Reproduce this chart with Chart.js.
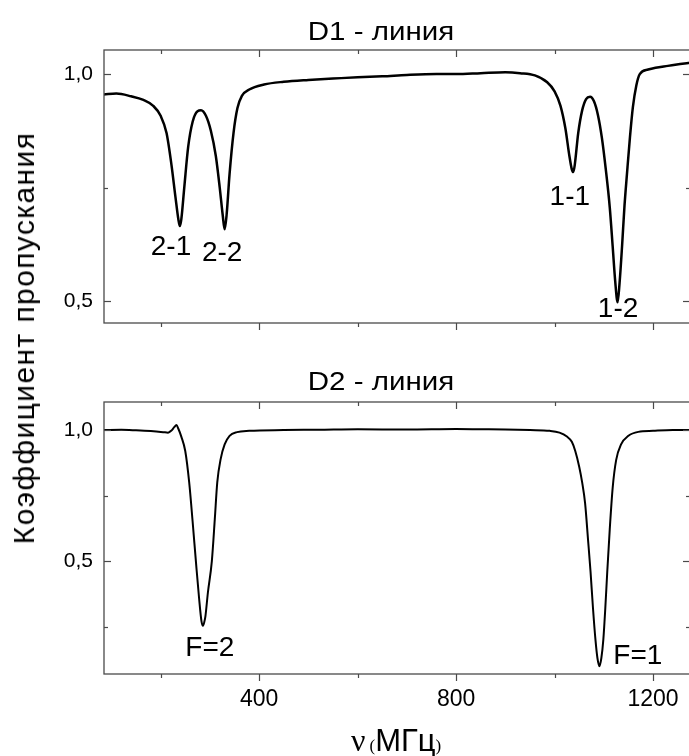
<!DOCTYPE html>
<html>
<head>
<meta charset="utf-8">
<script src="https://cdn.jsdelivr.net/npm/chart.js@4.4.1/dist/chart.umd.min.js"></script>
<style>
html, body { margin: 0; padding: 0; background: #fff; overflow: hidden; }
#wrap { position: relative; width: 689px; height: 756px; overflow: hidden; }
canvas { position: absolute; left: 0; }
#c1 { top: 0; }
#c2 { top: 340px; }
#ytitle {
    position: absolute; left: 24px; top: 338px;
    transform: translate(-50%, -50%) rotate(-90deg);
    font: 30px "Liberation Sans", Arial, sans-serif;
    letter-spacing: 1.4px;
    white-space: nowrap; color: #000;
}
</style>
</head>
<body>
<div id="wrap">
    <canvas id="c1" width="692" height="340"></canvas>
    <canvas id="c2" width="692" height="416"></canvas>
    <div id="ytitle">Коэффициент пропускания</div>
</div>
<script>
// D1 - линия
var freqD1 = [85, 110, 140, 165, 185, 200, 212, 222, 230, 236, 239, 242, 248, 256, 265, 275, 282, 292, 302, 312,
    320, 326, 330, 334, 340, 348, 356, 365, 380, 410, 450, 500, 550, 600, 650, 700, 760, 800, 850, 900,
    930, 960, 985, 1000, 1012, 1022, 1030, 1035, 1038, 1041, 1048, 1056, 1064, 1072, 1080, 1088, 1096, 1104, 1112, 1118,
    1123, 1128, 1132, 1137, 1142, 1147, 1153, 1159, 1166, 1173, 1190, 1205, 1230, 1255, 1275];
var transD1 = [0.955, 0.957, 0.951, 0.943, 0.93, 0.908, 0.87, 0.80, 0.73, 0.68, 0.665, 0.68, 0.75, 0.84, 0.895, 0.918, 0.92, 0.908, 0.875, 0.82,
    0.75, 0.69, 0.658, 0.69, 0.78, 0.87, 0.925, 0.952, 0.966, 0.977, 0.983, 0.987, 0.99, 0.993, 0.995, 0.998, 1.0, 1.0, 1.002, 1.004,
    1.002, 0.997, 0.982, 0.962, 0.93, 0.88, 0.82, 0.79, 0.784, 0.80, 0.87, 0.92, 0.945, 0.95, 0.94, 0.91, 0.86, 0.79, 0.707, 0.62,
    0.545, 0.497, 0.54, 0.62, 0.71, 0.78, 0.86, 0.927, 0.975, 1.0, 1.01, 1.014, 1.018, 1.022, 1.025];

// D2 - линия
var freqD2 = [85, 120, 150, 180, 205, 215, 222, 228, 232, 236, 242, 250, 258, 265, 272, 278, 283, 286, 289, 291,
    296, 304, 310, 315, 322, 330, 340, 355, 380, 450, 520, 600, 700, 800, 850, 900, 950, 990, 1010, 1025,
    1035, 1042, 1050, 1056, 1062, 1068, 1073, 1078, 1083, 1087, 1091, 1095, 1099, 1103, 1107, 1112, 1118, 1125, 1135, 1150,
    1170, 1200, 1240, 1275];
var transD2 = [1.0, 1.001, 0.999, 0.996, 0.992, 0.99, 0.998, 1.012, 1.019, 1.005, 0.975, 0.92, 0.80, 0.65, 0.49, 0.36, 0.27, 0.253, 0.27, 0.29,
    0.38, 0.50, 0.66, 0.80, 0.89, 0.945, 0.978, 0.992, 0.997, 1.0, 1.001, 1.003, 1.002, 1.004, 1.003, 1.002, 1.0, 0.997, 0.99, 0.975,
    0.955, 0.92, 0.86, 0.80, 0.72, 0.58, 0.46, 0.32, 0.20, 0.13, 0.099, 0.13, 0.20, 0.32, 0.46, 0.62, 0.78, 0.885, 0.945, 0.978,
    0.993, 0.997, 1.0, 1.0];

var xMajor = [400, 800, 1200];
var xMinor = [200, 600, 1000];
var yMajorD1 = [0.5, 1.0];
var yMinorD1 = [0.75];
var yMajorD2 = [0.5, 1.0];
var yMinorD2 = [0.25, 0.75];

var peakNamesD1 = ['2-1', '2-2', '1-1', '1-2'];
var peakXD1 = [221, 325, 1031, 1129];
var peakYD1 = [0.601, 0.588, 0.711, 0.465];
var peakNamesD2 = ['F=2', 'F=1'];
var peakXD2 = [300, 1169];
var peakYD2 = [0.137, 0.107];

var sans = '"Liberation Sans", Arial, sans-serif';
var serif = '"Liberation Serif", "Times New Roman", serif';

function fmt(v) {
    return v.toFixed(1).replace('.', ',');
}

function toPoints(xs, ys) {
    var pts = [];
    for (var i = 0; i < xs.length; i++) {
        pts.push({ x: xs[i], y: ys[i] });
    }
    return pts;
}

// рамка, засечки внутрь/наружу, подписи пиков и заголовок
function framePlugin(cfg) {
    return {
        id: 'frame',
        afterDraw: function (chart) {
            var ctx = chart.ctx, a = chart.chartArea;
            var xs = chart.scales.x, ys = chart.scales.y;
            ctx.save();
            ctx.strokeStyle = '#4a4a4a';
            ctx.lineWidth = 1.3;
            ctx.strokeRect(a.left, a.top, a.right - a.left, a.bottom - a.top);

            function seg(x1, y1, x2, y2) {
                ctx.beginPath();
                ctx.moveTo(x1, y1);
                ctx.lineTo(x2, y2);
                ctx.stroke();
            }
            function xTick(v, len) {
                var p = Math.round(xs.getPixelForValue(v)) + 0.5;
                seg(p, a.top, p, a.top + len);
                seg(p, a.bottom, p, a.bottom + len);
            }
            function yTick(v, len) {
                var p = Math.round(ys.getPixelForValue(v)) + 0.5;
                seg(a.left, p, a.left + len, p);
                seg(a.right, p, a.right - len, p);
            }
            ctx.lineWidth = 1.2;
            xMajor.forEach(function (v) { xTick(v, 7); });
            xMinor.forEach(function (v) { xTick(v, 4); });
            cfg.yMajor.forEach(function (v) { yTick(v, 7); });
            cfg.yMinor.forEach(function (v) { yTick(v, 4); });

            ctx.fillStyle = '#000';
            ctx.font = '28px ' + sans;
            ctx.textAlign = 'center';
            ctx.textBaseline = 'alphabetic';
            for (var i = 0; i < cfg.names.length; i++) {
                ctx.fillText(cfg.names[i], xs.getPixelForValue(cfg.px[i]), ys.getPixelForValue(cfg.py[i]));
            }

            // заголовок панели, немного растянут по ширине
            ctx.save();
            ctx.translate(381, cfg.titleY);
            ctx.scale(1.18, 1);
            ctx.font = '25px ' + sans;
            ctx.fillText(cfg.title, 0, 0);
            ctx.restore();

            if (cfg.xTitle) {
                var x = 351, y = chart.height - 5;
                ctx.textAlign = 'left';
                ctx.font = '32px ' + serif;
                ctx.fillText('ν', x, y);
                x += ctx.measureText('ν').width + 4;
                ctx.font = '17px ' + serif;
                ctx.fillText('(', x, y);
                x += ctx.measureText('(').width;
                ctx.font = '31px ' + sans;
                ctx.fillText('МГц', x, y);
                x += ctx.measureText('МГц').width;
                ctx.font = '17px ' + serif;
                ctx.fillText(')', x, y);
            }
            ctx.restore();
        }
    };
}

function creaGrafico(id, freq, trans, yMin, yMax, yMajor, pad, xHeight, lw, cfg) {
    var showX = !!cfg.xTitle;
    return new Chart(document.getElementById(id), {
        type: 'line',
        data: {
            datasets: [{
                data: toPoints(freq, trans),
                borderColor: '#000',
                borderWidth: lw,
                pointRadius: 0,
                cubicInterpolationMode: 'monotone',
                fill: false
            }]
        },
        options: {
            responsive: false,
            animation: false,
            layout: { padding: pad },
            plugins: { legend: { display: false }, tooltip: { enabled: false }, title: { display: false } },
            scales: {
                x: {
                    type: 'linear',
                    min: 85,
                    max: 1275,
                    grid: { display: false, drawTicks: false },
                    border: { display: false },
                    afterBuildTicks: function (s) { s.ticks = xMajor.map(function (v) { return { value: v }; }); },
                    ticks: {
                        display: showX,
                        autoSkip: false,
                        maxRotation: 0,
                        padding: 12,
                        color: '#000',
                        font: { family: sans, size: 23 },
                        callback: function (v) { return String(v); }
                    },
                    afterFit: function (s) {
                        s.height = xHeight;
                        s.paddingLeft = 0;
                        s.paddingRight = 0;
                    }
                },
                y: {
                    min: yMin,
                    max: yMax,
                    grid: { display: false, drawTicks: false },
                    border: { display: false },
                    afterBuildTicks: function (s) { s.ticks = yMajor.map(function (v) { return { value: v }; }); },
                    ticks: {
                        autoSkip: false,
                        padding: 11,
                        color: '#000',
                        font: { family: sans, size: 21 },
                        callback: function (v) { return fmt(v); }
                    },
                    afterFit: function (s) {
                        s.width = 104;
                        s.paddingTop = 0;
                        s.paddingBottom = 0;
                    }
                }
            }
        },
        plugins: [framePlugin(cfg)]
    });
}

creaGrafico('c1', freqD1, transD1, 0.4515, 1.053, yMajorD1,
    { top: 50, bottom: 0, left: 0, right: 2 }, 17, 2.5,
    { yMajor: yMajorD1, yMinor: yMinorD1, names: peakNamesD1, px: peakXD1, py: peakYD1, title: 'D1 - линия', titleY: 40 });

creaGrafico('c2', freqD2, transD2, 0.069, 1.107, yMajorD2,
    { top: 62, bottom: 0, left: 0, right: 2 }, 82, 2,
    { yMajor: yMajorD2, yMinor: yMinorD2, names: peakNamesD2, px: peakXD2, py: peakYD2, title: 'D2 - линия', titleY: 50, xTitle: true });
</script>
</body>
</html>
